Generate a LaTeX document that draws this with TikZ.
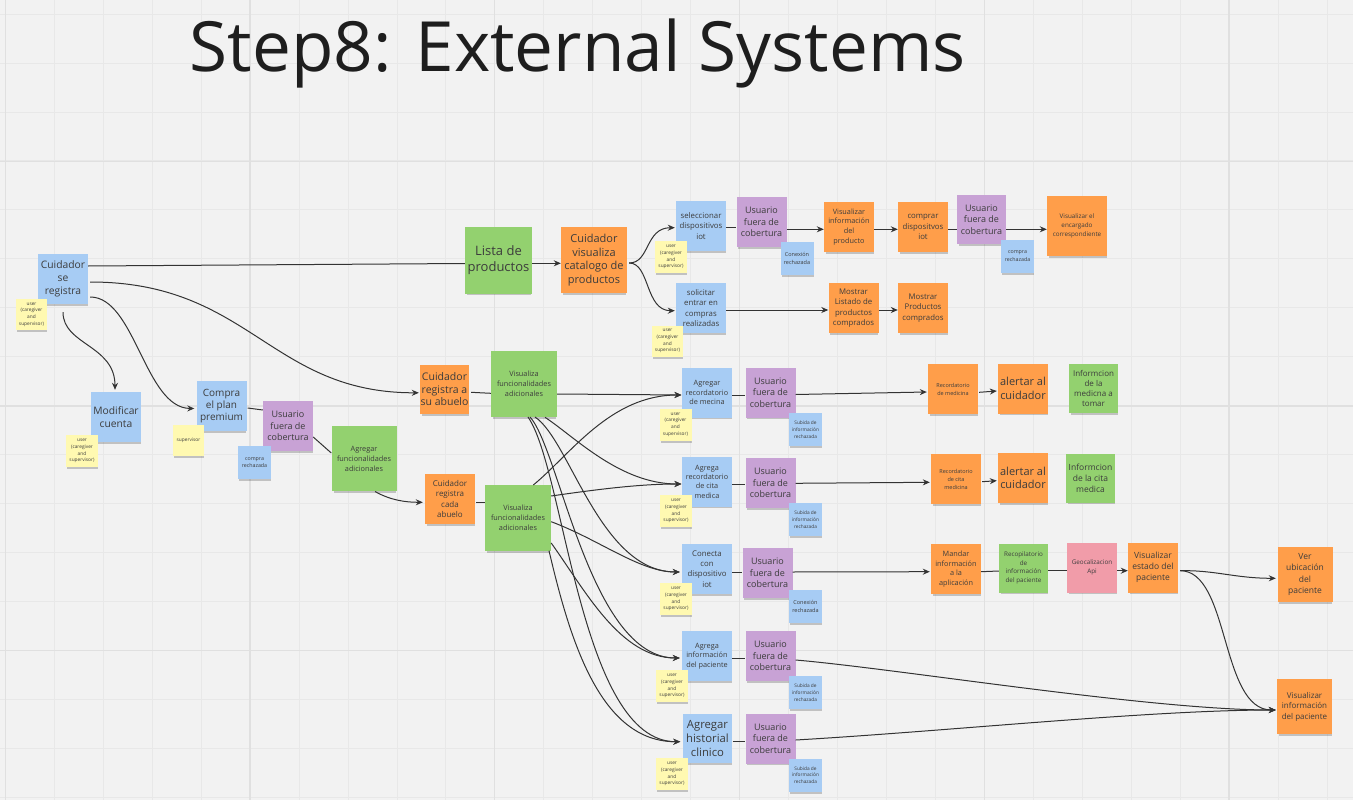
\documentclass[tikz,border=0pt]{standalone}
\usepackage{fontspec}
\setmainfont{Open Sans}
\usetikzlibrary{calc,arrows.meta,shadows}
\definecolor{bg}{HTML}{F2F2F2}
\definecolor{gmin}{HTML}{E8E8E8}
\definecolor{gmaj}{HTML}{E0E0E0}
\definecolor{cB}{HTML}{A7CCF4}
\definecolor{cY}{HTML}{FFF9B1}
\definecolor{cO}{HTML}{FF9E4A}
\definecolor{cG}{HTML}{93D16F}
\definecolor{cP}{HTML}{C8A2D5}
\definecolor{cR}{HTML}{F19CA9}
\definecolor{txt}{HTML}{3C3C3C}
\definecolor{ln}{HTML}{333333}
\definecolor{ttl}{HTML}{1E1E1E}
\begin{document}
\begin{tikzpicture}[x=1pt,y=-1pt,
  nt/.style={rectangle, align=center, inner sep=0pt, text=txt,
    drop shadow={shadow xshift=0.8pt, shadow yshift=-3pt, shadow scale=0.96, opacity=0.2, fill=black}},
  sq/.style={minimum width=#1pt, minimum height=#1pt},
  fs/.style 2 args={font=\fontsize{#1}{#2}\selectfont},
  noteB/.style={nt, fill=cB},
  noteY/.style={nt, fill=cY, sq=32, fs={4.8}{6.8}},
  noteO/.style={nt, fill=cO},
  noteG/.style={nt, fill=cG},
  noteP/.style={nt, fill=cP, sq=50, fs={9}{11.3}},
  noteR/.style={nt, fill=cR},
  noteS/.style={nt, fill=cB, sq=33},
  cn/.style={draw=ln, line width=1pt},
  ar/.style={cn, -{Stealth[length=7pt,width=6pt]}}
]
\fill[bg] (0,0) rectangle (1353,800);
\useasboundingbox (0,0) rectangle (1353,800);
\foreach \i in {0,...,27} {
  \pgfmathsetmacro\gx{5.3+48.95*\i}
  \draw[gmin, line width=0.8pt] (\gx,0) -- (\gx,800);
}
\foreach \j in {0,...,16} {
  \pgfmathsetmacro\gy{14+48.95*\j}
  \draw[gmin, line width=0.8pt] (0,\gy) -- (1353,\gy);
}
\foreach \i in {0,...,5} {
  \pgfmathsetmacro\gx{5.3+244.75*\i}
  \draw[gmaj, line width=1.2pt] (\gx,0) -- (\gx,800);
}
\foreach \j in {0,...,2} {
  \pgfmathsetmacro\gy{161.2+244.75*\j}
  \draw[gmaj, line width=1.2pt] (0,\gy) -- (1353,\gy);
}

\node[anchor=base west, text=ttl, font=\fontsize{69.3}{84}\selectfont, inner sep=0pt] (title) at (189.5,71) {Step8: External Systems};

% ---- left part
\node[noteB, sq=50, fs={10.3}{13}] (reg) at (63,279) {Cuidador\\se\\registra};
\node[noteB, sq=50, fs={10.3}{13.3}] (mod) at (116,417) {Modificar\\cuenta};
\node[noteB, sq=50, fs={10}{12.3}] (plan) at (221.5,406) {Compra\\el plan\\premium};
\node[noteP] (u0) at (288,426) {Usuario\\fuera de\\cobertura};
\node[noteG, sq=65, fs={7.3}{10}] (agf) at (364,458.5) {Agregar\\funcionalidades\\adicionales};
\node[noteO, sq=49, fs={10.5}{12.5}] (abu1) at (444.5,389.5) {Cuidador\\registra a\\su abuelo};
\node[noteO, sq=50, fs={8}{10.3}] (abu2) at (450,499) {Cuidador\\registra\\cada\\abuelo};
\node[noteG, sq=66, fs={7.3}{10}] (vf1) at (524,384) {Visualiza\\funcionalidades\\adicionales};
\node[noteG, sq=66, fs={7.3}{10}] (vf2) at (518,518) {Visualiza\\funcionalidades\\adicionales};

% ---- top rows
\node[noteG, sq=67, fs={13}{16}] (lista) at (498.5,260) {Lista de\\productos};
\node[noteO, sq=66, fs={11}{13.5}] (cat) at (594,260) {Cuidador\\visualiza\\catalogo de\\productos};
\node[noteB, sq=50, fs={7.8}{10.3}] (sel) at (701,226) {seleccionar\\dispositivos\\iot};
\node[noteP] (u1) at (761.5,222) {Usuario\\fuera de\\cobertura};
\node[noteO, sq=50, fs={7.3}{9.8}] (vip) at (849,227) {Visualizar\\información\\del\\producto};
\node[noteO, sq=50, fs={7.8}{10.5}] (comp) at (923,227) {comprar\\dispositvos\\iot};
\node[noteP, sq=49] (u2) at (981.5,219.5) {Usuario\\fuera de\\cobertura};
\node[noteO, sq=60, fs={6.3}{9}] (enc) at (1077,226) {Visualizar el\\encargado\\correspondiente};
\node[noteB, sq=50, fs={7.8}{10.3}] (sol) at (701,308) {solicitar\\entrar en\\compras\\realizadas};
\node[noteO, sq=50, fs={7.8}{10.5}] (mla) at (853.5,308) {Mostrar\\Listado de\\productos\\comprados};
\node[noteO, sq=50, fs={7.8}{10.5}] (mpc) at (923,308) {Mostrar\\Productos\\comprados};

% ---- row mecina
\node[noteB, sq=50, fs={7.3}{9.3}] (rm) at (707,392.5) {Agregar\\recordatorio\\de mecina};
\node[noteP] (um) at (770.5,392.5) {Usuario\\fuera de\\cobertura};
\node[noteO, sq=50, fs={5.5}{8}] (recm) at (953,389) {Recordatorio\\de medicina};
\node[noteO, sq=50, fs={11}{13.3}] (al1) at (1023,388.5) {alertar al\\cuidador};
\node[noteG, sq=49, fs={8}{10.3}] (inm) at (1093.5,388.5) {Informcion\\de la\\medicna a\\tomar};

% ---- row cita
\node[noteB, sq=50, fs={7.3}{9.3}] (rc) at (707,481.5) {Agrega\\recordatorio\\de cita\\medica};
\node[noteP] (uc) at (770.5,483) {Usuario\\fuera de\\cobertura};
\node[noteO, sq=50, fs={5.5}{8}] (recc) at (956,479) {Recordatorio\\de cita\\medicina};
\node[noteO, sq=50, fs={11}{13.3}] (al2) at (1023,478) {alertar al\\cuidador};
\node[noteG, sq=49, fs={8.5}{11}] (inc) at (1090.5,478) {Informcion\\de la cita\\medica};

% ---- row iot
\node[noteB, sq=50, fs={7.8}{10.3}] (con) at (707,569) {Conecta\\con\\dispositivo\\iot};
\node[noteP] (ui) at (767.5,573) {Usuario\\fuera de\\cobertura};
\node[noteO, sq=50, fs={7.3}{9.6}] (man) at (956,569) {Mandar\\información\\a la\\aplicación};
\node[noteG, sq=49, fs={6.3}{8.7}] (rec) at (1023.5,568) {Recopilatorio\\de\\información\\del paciente};
\node[noteR, sq=50, fs={6.3}{9.3}] (geo) at (1092,567.5) {Geocalizacion\\Api};
\node[noteO, sq=50, fs={8.5}{11}] (ves) at (1153,567.5) {Visualizar\\estado del\\paciente};
\node[noteO, sq=55, fs={8.5}{11.5}] (ver) at (1305,574.5) {Ver\\ubicación\\del\\paciente};

% ---- row info
\node[noteB, sq=50, fs={7.3}{9.5}] (ai) at (707,656) {Agrega\\información\\del paciente};
\node[noteP] (uai) at (770.5,656) {Usuario\\fuera de\\cobertura};
\node[noteO, sq=55, fs={8}{10.5}] (vip2) at (1304.5,706.5) {Visualizar\\información\\del paciente};

% ---- row historial
\node[noteB, sq=49, fs={11.3}{14}] (hc) at (707.5,738.5) {Agregar\\historial\\clinico};
\node[noteP] (uhc) at (770.5,738.5) {Usuario\\fuera de\\cobertura};

% ---- connectors
\draw[cn] ($(reg.east)+(0,-13)$) -- ($(lista.west)+(0,3.5)$);
\draw[ar] ($(lista.east)+(0,3.3)$) -- ($(cat.west)+(0,3.3)$);
\draw[ar] ($(cat.east)+(2,3)$) .. controls (650,263) and (645,227.7) .. ($(sel.west)+(-1,1.7)$);
\draw[ar] ($(cat.east)+(2,3)$) .. controls (650,263) and (645,310.7) .. ($(sol.west)+(-1,2.7)$);
\draw[cn] ($(sel.east)+(0,1.7)$) -- ($(u1.west)+(0,5.7)$);
\draw[ar] ($(u1.east)+(0,7.3)$) -- ($(vip.west)+(0,2.3)$);
\draw[ar] ($(vip.east)+(0,2.3)$) -- ($(comp.west)+(0,2.3)$);
\draw[cn] ($(comp.east)+(0,2.3)$) -- ($(u2.west)+(0,9.8)$);
\draw[ar] ($(u2.east)+(0,9.8)$) -- ($(enc.west)+(0,3.3)$);
\draw[ar] ($(sol.east)+(0,2)$) -- ($(mla.west)+(0,2)$);
\draw[ar] ($(mla.east)+(0,2)$) -- ($(mpc.west)+(0,2)$);

\draw[ar] ($(reg.east)+(2,3)$) .. controls (250,282) and (270,393) .. ($(abu1.west)+(-1,3.3)$);
\draw[ar] ($(reg.east)+(2,18)$) .. controls (135,297) and (145,408) .. ($(plan.west)+(-2,2.5)$);
\draw[ar] ($(reg.south)+(0,8)$) .. controls (63,345) and (115,345) .. ($(mod.north)+(-1,-2)$);
\draw[cn] ($(plan.east)+(1,2)$) -- ($(u0.west)+(0,-16)$);
\draw[cn] ($(u0.east)+(0,11)$) -- ($(agf.west)+(0,-5.5)$);
\draw[ar] (375,491.5) .. controls (390,500) and (405,502.3) .. ($(abu2.west)+(-2,3.3)$);
\draw[cn] ($(abu1.east)+(2,2.8)$) -- ($(vf1.west)+(0,9.3)$);
\draw[cn] ($(abu2.east)+(1,3.3)$) -- ($(vf2.west)+(0,-15.7)$);

\draw[ar] ($(vf1.east)+(0,10)$) -- ($(rm.west)+(-0.3,2.5)$);
\draw[ar] (545,417.3) .. controls (575,437) and (620,484) .. ($(rc.west)+(-0.3,2.5)$);
\draw[ar] (535,417) .. controls (570,440) and (600,572) .. ($(con.west)+(-2,3)$);
\draw[ar] (530,417) .. controls (560,450) and (590,658) .. ($(ai.west)+(-2,2)$);
\draw[ar] (528,417) .. controls (565,470) and (580,742) .. ($(hc.west)+(-2.5,3.2)$);
\draw[ar] (533.3,485) .. controls (570,455) and (610,395) .. ($(rm.west)+(-0.3,2.5)$);
\draw[ar] ($(vf2.east)+(0,-22)$) .. controls (600,489) and (640,484) .. ($(rc.west)+(-0.3,2.5)$);
\draw[ar] ($(vf2.east)+(0,3.7)$) .. controls (600,540) and (640,572) .. ($(con.west)+(-2,3)$);
\draw[ar] ($(vf2.east)+(0,25)$) .. controls (585,590) and (620,658) .. ($(ai.west)+(-2,2)$);
\draw[ar] (549,550.7) .. controls (570,640) and (600,742) .. ($(hc.west)+(-2.5,3.2)$);

\draw[cn] ($(rm.east)+(0,2.5)$) -- ($(um.west)+(0,2.5)$);
\draw[ar] ($(um.east)+(0,2)$) -- ($(recm.west)+(-1,3)$);
\draw[ar] ($(recm.east)+(1,3.3)$) -- ($(al1.west)+(-1,2.5)$);
\draw[cn] ($(rc.east)+(0,2.5)$) -- ($(uc.west)+(0,1)$);
\draw[ar] ($(uc.east)+(0,0.3)$) -- ($(recc.west)+(-1,3.3)$);
\draw[ar] ($(recc.east)+(1,2.7)$) -- ($(al2.west)+(-1,2.7)$);
\draw[cn] ($(con.east)+(0,3.3)$) -- ($(ui.west)+(0,-0.7)$);
\draw[ar] ($(ui.east)+(0,-1)$) -- ($(man.west)+(-1,2.7)$);
\draw[cn] ($(man.east)+(0,2.7)$) -- ($(rec.west)+(0,3)$);
\draw[cn] ($(rec.east)+(0,2.7)$) -- ($(geo.west)+(0,3.2)$);
\draw[ar] ($(geo.east)+(0,3.2)$) -- ($(ves.west)+(0,3.2)$);
\draw[ar] ($(ves.east)+(2,3.2)$) .. controls (1215,570) and (1235,578.3) .. ($(ver.west)+(-1.5,3.8)$);
\draw[ar] ($(ves.east)+(2,3.2)$) .. controls (1230,570.7) and (1220,710) .. ($(vip2.west)+(-1,3.5)$);
\draw[cn] ($(ai.east)+(0,2.3)$) -- ($(uai.west)+(0,2.3)$);
\draw[ar] ($(uai.east)+(0,4)$) .. controls (900,669) and (1150,710) .. ($(vip2.west)+(-1,3.5)$);
\draw[cn] ($(hc.east)+(0.5,3.2)$) -- ($(uhc.west)+(0,3.2)$);
\draw[ar] ($(uhc.east)+(0,1.5)$) .. controls (950,731) and (1150,710) .. ($(vip2.west)+(-1,3.5)$);

% ---- overlay notes (yellow and small blue)
\node[noteY, sq=31] (y1) at (31.5,314.5) {user\\(caregiver\\and\\supervisor)};
\node[noteY] (y2) at (82,451) {user\\(caregiver\\and\\supervisor)};
\node[noteY, sq=31] (ysup) at (188.5,440) {supervisor};
\node[noteS, fs={5.3}{7.7}] (cr0) at (254.5,462.5) {compra\\rechazada};
\node[noteY] (ysel) at (671,257) {user\\(caregiver\\and\\supervisor)};
\node[noteS, fs={5.5}{8.3}] (cx1) at (797,258.5) {Conexión\\rechazada};
\node[noteS, fs={5.3}{7.7}] (cr2) at (1017.5,256) {compra\\rechazada};
\node[noteY, sq=31] (ysol) at (667.5,341) {user\\(caregiver\\and\\supervisor)};
\node[noteY] (yrm) at (675.5,424.5) {user\\(caregiver\\and\\supervisor)};
\node[noteS, fs={4.8}{6.7}] (sm) at (805.5,429.5) {Subida de\\información\\rechazada};
\node[noteY] (yrc) at (676,511) {user\\(caregiver\\and\\supervisor)};
\node[noteS, fs={4.8}{6.7}] (sc) at (805.5,519.5) {Subida de\\información\\rechazada};
\node[noteY] (ycon) at (676,599) {user\\(caregiver\\and\\supervisor)};
\node[noteS, fs={5.5}{8.3}] (ci) at (805.5,606.5) {Conexión\\rechazada};
\node[noteY] (yai) at (672,686) {user\\(caregiver\\and\\supervisor)};
\node[noteS, fs={4.8}{6.7}] (sai) at (805.5,692.5) {Subida de\\información\\rechazada};
\node[noteY] (yhc) at (672,774) {user\\(caregiver\\and\\supervisor)};
\node[noteS, fs={4.8}{6.7}] (shc) at (805.5,775) {Subida de\\información\\rechazada};
\end{tikzpicture}
\end{document}
